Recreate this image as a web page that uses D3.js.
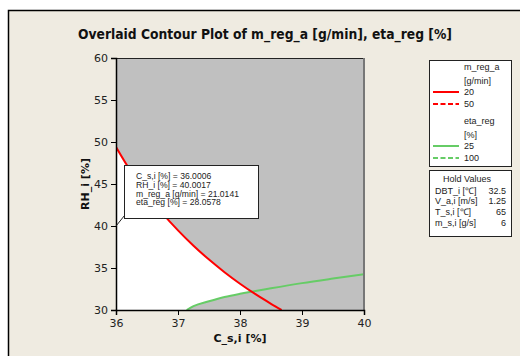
<!DOCTYPE html>
<html>
<head>
<meta charset="utf-8">
<script src="https://cdn.jsdelivr.net/npm/d3@7"></script>
<style>
  html, body { margin: 0; padding: 0; background: #ffffff; }
  svg { display: block; font-family: "Liberation Sans", Arial, sans-serif; }
</style>
</head>
<body>
<svg id="chart" width="520" height="356"></svg>
<script>
// Axis ranges and ticks
const xTicks = [36, 37, 38, 39, 40];
const yTicks = [30, 35, 40, 45, 50, 55, 60];

// Contour m_reg_a = 20 [g/min]
const redX = [36.0, 36.25, 36.5, 36.75, 37.0, 37.25, 37.5, 37.75, 38.0, 38.25, 38.5, 38.67];
const redY = [49.4, 46.37, 43.8, 41.51, 39.48, 37.65, 36.0, 34.5, 33.13, 31.88, 30.74, 30.0];

// Contour eta_reg = 25 [%]
const greenX = [37.14, 37.25, 37.5, 37.75, 38.0, 38.25, 38.5, 39.0, 39.5, 40.0];
const greenY = [30.0, 30.46, 31.04, 31.55, 31.93, 32.25, 32.58, 33.2, 33.74, 34.25];

// Legend entries
const legendGroups = [
  { title: ["m_reg_a", "[g/min]"], color: "#ff0000", levels: ["20", "50"] },
  { title: ["eta_reg", "[%]"], color: "#66cc66", levels: ["25", "100"] }
];

// Hold values
const holdNames = ["DBT_i [\u2103]", "V_a,i [m/s]", "T_s,i [\u2103]", "m_s,i [g/s]"];
const holdValues = ["32.5", "1.25", "65", "6"];

// Crosshair readout
const cursorLabels = ["C_s,i [%]", "RH_i [%]", "m_reg_a [g/min]", "eta_reg [%]"];
const cursorValues = ["36.0006", "40.0017", "21.0141", "28.0578"];

const svg = d3.select("#chart");

// Figure background and frame
svg.append("rect").attr("x", 8).attr("y", 10).attr("width", 520).attr("height", 360)
  .attr("fill", "#efebe1");
svg.append("path").attr("d", "M8.5,356 V10.5 H520").attr("fill", "none")
  .attr("stroke", "#000").attr("stroke-width", 1.5);

const x = d3.scaleLinear().domain([36, 40]).range([116, 364]);
const y = d3.scaleLinear().domain([30, 60]).range([310, 58]);

const red = redX.map((v, i) => [v, redY[i]]);
const green = greenX.map((v, i) => [v, greenY[i]]);

const defs = svg.append("defs");
defs.append("clipPath").attr("id", "plotClip").append("rect")
  .attr("x", x(36)).attr("y", y(60)).attr("width", x(40) - x(36)).attr("height", y(30) - y(60));

// Region above the eta_reg contour
const aboveGreen = defs.append("clipPath").attr("id", "aboveGreen");
aboveGreen.append("path").attr("d", d3.area()
  .x(d => x(d[0])).y0(y(60)).y1(d => y(d[1])).curve(d3.curveMonotoneX)(green));
aboveGreen.append("rect").attr("x", x(36)).attr("y", y(60))
  .attr("width", x(greenX[0]) - x(36) + 0.5).attr("height", y(30) - y(60));

const plot = svg.append("g").attr("clip-path", "url(#plotClip)");

// Infeasible region shading
plot.append("rect").attr("x", x(36)).attr("y", y(60))
  .attr("width", x(40) - x(36)).attr("height", y(30) - y(60)).attr("fill", "#c0c0c0");

// Feasible (white) region: below m_reg_a contour and above eta_reg contour
plot.append("g").attr("clip-path", "url(#aboveGreen)").append("path")
  .attr("d", d3.area().x(d => x(d[0])).y0(y(30)).y1(d => y(d[1])).curve(d3.curveMonotoneX)(red))
  .attr("fill", "#ffffff");

const line = d3.line().x(d => x(d[0])).y(d => y(d[1])).curve(d3.curveMonotoneX);
plot.append("path").attr("d", line(green)).attr("fill", "none")
  .attr("stroke", "#66cc66").attr("stroke-width", 2);
plot.append("path").attr("d", line(red)).attr("fill", "none")
  .attr("stroke", "#ff0000").attr("stroke-width", 2);

// Plot frame
svg.append("line").attr("x1", x(36)).attr("x2", x(40)).attr("y1", y(60) + 0.5).attr("y2", y(60) + 0.5)
  .attr("stroke", "#222").attr("stroke-width", 1);
svg.append("line").attr("x1", x(40)).attr("x2", x(40)).attr("y1", y(60)).attr("y2", y(30))
  .attr("stroke", "#777").attr("stroke-width", 2);

// Axes
const xAxis = svg.append("g").attr("transform", `translate(0,${y(30)})`)
  .call(d3.axisBottom(x).tickValues(xTicks).tickSize(5).tickPadding(3).tickFormat(d3.format("d")));
const yAxis = svg.append("g").attr("transform", `translate(${x(36)},0)`)
  .call(d3.axisLeft(y).tickValues(yTicks).tickSize(5).tickPadding(3).tickFormat(d3.format("d")));
[xAxis, yAxis].forEach(a => {
  a.select(".domain").attr("stroke", "#000").attr("stroke-width", 1.5);
  a.selectAll(".tick line").attr("stroke", "#000");
  a.selectAll(".tick text").attr("fill", "#222")
    .style("font-family", "'DejaVu Sans', sans-serif").style("font-size", "11px");
});
xAxis.selectAll(".tick text").attr("dy", "0.85em");

// Titles
svg.append("text").attr("x", 265).attr("y", 39).attr("text-anchor", "middle")
  .attr("textLength", 374).attr("lengthAdjust", "spacingAndGlyphs")
  .style("font-family", "'DejaVu Sans', sans-serif").style("font-weight", "bold").style("font-size", "13.5px")
  .attr("fill", "#111").text("Overlaid Contour Plot of m_reg_a [g/min], eta_reg [%]");
svg.append("text").attr("x", 240).attr("y", 342).attr("text-anchor", "middle")
  .style("font-family", "'DejaVu Sans', sans-serif").style("font-weight", "bold").style("font-size", "11px")
  .attr("fill", "#111").text("C_s,i [%]");
svg.append("text").attr("transform", `translate(89,${(y(30) + y(60)) / 2}) rotate(-90)`)
  .attr("text-anchor", "middle")
  .style("font-family", "'DejaVu Sans', sans-serif").style("font-weight", "bold").style("font-size", "11px")
  .attr("fill", "#111").text("RH_i [%]");

// Legend box
const leg = svg.append("g");
leg.append("rect").attr("x", 429.5).attr("y", 60.5).attr("width", 82).attr("height", 106)
  .attr("fill", "#fff").attr("stroke", "#222").attr("stroke-width", 1);
legendGroups.forEach((g, gi) => {
  const top = 67 + gi * 54;
  g.title.forEach((t, ti) => {
    leg.append("text").attr("x", 464).attr("y", top + ti * 13.5).attr("dy", "0.35em")
      .style("font-size", "9px").attr("fill", "#222").text(t);
  });
  g.levels.forEach((lv, li) => {
    const yy = top + 25 + li * 12;
    leg.append("line").attr("x1", 433).attr("x2", 459).attr("y1", yy).attr("y2", yy)
      .attr("stroke", g.color).attr("stroke-width", 2)
      .attr("stroke-dasharray", li === 1 ? "5,2.5" : null);
    leg.append("text").attr("x", 464).attr("y", yy).attr("dy", "0.35em")
      .style("font-size", "9px").attr("fill", "#222").text(lv);
  });
});

// Hold values box
const hold = svg.append("g");
hold.append("rect").attr("x", 429.5).attr("y", 170.5).attr("width", 82).attr("height", 66)
  .attr("fill", "#fff").attr("stroke", "#222").attr("stroke-width", 1);
hold.append("text").attr("x", 467).attr("y", 178.5).attr("dy", "0.35em").attr("text-anchor", "middle")
  .style("font-size", "9px").attr("fill", "#222").text("Hold Values");
holdNames.forEach((n, i) => {
  const yy = 190.5 + i * 10.7;
  hold.append("text").attr("x", 435).attr("y", yy).attr("dy", "0.35em")
    .style("font-size", "9px").attr("fill", "#222").text(n);
  hold.append("text").attr("x", 506).attr("y", yy).attr("dy", "0.35em").attr("text-anchor", "end")
    .style("font-size", "9px").attr("fill", "#222").text(holdValues[i]);
});

// Crosshair readout box with pointer
const px = x(+cursorValues[0]), py = y(+cursorValues[1]);
const tip = svg.append("g");
tip.append("line").attr("x1", px).attr("y1", py).attr("x2", 124.5).attr("y2", 215.5)
  .attr("stroke", "#222").attr("stroke-width", 1);
tip.append("rect").attr("x", 124.5).attr("y", 165.5).attr("width", 134).attr("height", 53)
  .attr("fill", "#fff").attr("stroke", "#222").attr("stroke-width", 1);
cursorLabels.forEach((l, i) => {
  tip.append("text").attr("x", 136).attr("y", 176 + i * 8.8).attr("dy", "0.35em")
    .style("font-size", "8.6px").attr("fill", "#222").text(`${l} = ${cursorValues[i]}`);
});
</script>
</body>
</html>
